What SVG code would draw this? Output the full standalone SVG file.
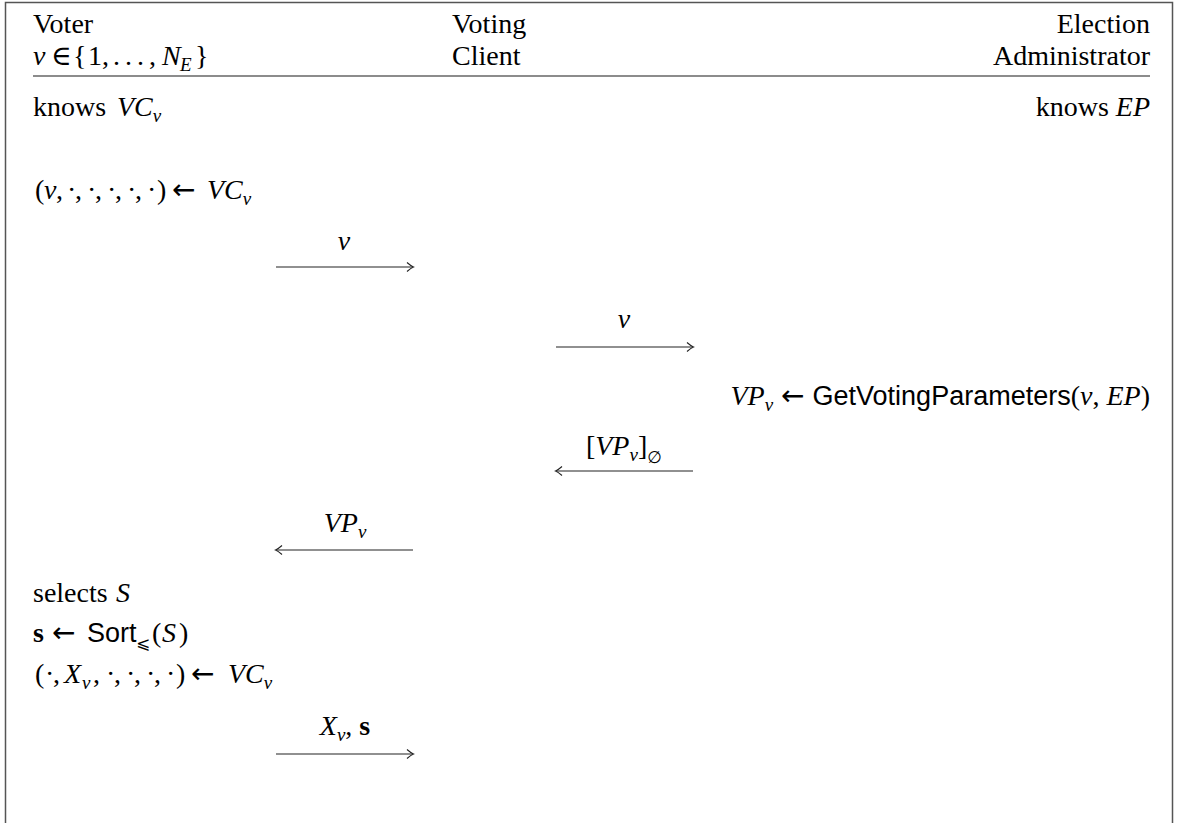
<svg xmlns="http://www.w3.org/2000/svg" width="1177" height="823" viewBox="0 0 1177 823">
<style>
  text { font-family: "Liberation Serif", "DejaVu Serif", serif; font-size: 28px; fill: #000; }
  .i { font-style: italic; }
  .sub { font-size: 19px; font-style: italic; }
  .sans { font-family: "Liberation Sans", "DejaVu Sans", sans-serif; font-size: 27px; }
  .b { font-weight: bold; }
  .arr { font-family: "DejaVu Sans", sans-serif; font-size: 28px; }
  .sym { font-family: "DejaVu Sans", sans-serif; font-size: 17px; }
  .frame { stroke: #555; stroke-width: 1.5; fill: none; }
  .rule { stroke: #666; stroke-width: 1.6; }
  .msg { stroke: #222; stroke-width: 1.2; fill: none; }
</style>
<defs>
  <marker id="head" markerUnits="userSpaceOnUse" markerWidth="12" markerHeight="12" refX="0" refY="0" viewBox="-8 -6 10 12" orient="auto" overflow="visible">
    <path d="M-6,-4.5 Q-2,-1 0.5,0 Q-2,1 -6,4.5" fill="none" stroke="#222" stroke-width="1.1"/>
  </marker>
</defs>
<rect width="1177" height="823" fill="#fff"/>
<path class="frame" d="M5.5,823 V2.5 H1172.5 V823"/>

<g id="header">
  <text x="33" y="33">Voter</text>
  <text y="65"><tspan class="i" x="33">v</tspan><tspan x="51">∈</tspan><tspan x="73">{</tspan><tspan x="88">1</tspan><tspan x="102">,</tspan><tspan x="113 125 137">...</tspan><tspan x="149">,</tspan><tspan class="i" x="162">N</tspan><tspan class="sub" x="180" dy="6">E</tspan><tspan x="195" dy="-6">}</tspan></text>
  <text x="452" y="33">Voting</text>
  <text x="452" y="65">Client</text>
  <text x="1150" y="33" text-anchor="end">Election</text>
  <text x="1150" y="65" text-anchor="end">Administrator</text>
  <line class="rule" x1="33" y1="76" x2="1150" y2="76"/>
</g>

<g id="voter-knows">
  <text y="116"><tspan x="33">knows</tspan><tspan class="i" x="117">VC</tspan><tspan class="sub" dy="6">v</tspan></text>
</g>
<g id="admin-knows">
  <text x="1150" y="116" text-anchor="end">knows <tspan class="i">EP</tspan></text>
</g>

<g id="voter-step1">
  <text y="199"><tspan x="35">(</tspan><tspan class="i" x="44">v</tspan><tspan x="56 67 75 87 95 107 115 127 135 147 157">,·,·,·,·,·)</tspan><tspan class="arr" x="172">←</tspan><tspan class="i" x="207">VC</tspan><tspan class="sub" dy="6">v</tspan></text>
</g>

<g id="admin-step">
  <text x="1150" y="405" text-anchor="end"><tspan class="i">VP</tspan><tspan class="sub" dy="6">v</tspan><tspan class="arr" dx="8" dy="-6">←</tspan><tspan class="sans" dx="8">GetVotingParameters</tspan>(<tspan class="i">v</tspan>, <tspan class="i">EP</tspan>)</text>
</g>

<g id="voter-step2">
  <text y="602"><tspan x="33">selects</tspan><tspan class="i" x="116">S</tspan></text>
  <text y="642"><tspan class="b" x="33">s</tspan><tspan class="arr" x="52">←</tspan><tspan class="sans" x="87">Sort</tspan><tspan class="sym" x="136" dy="7">⩽</tspan><tspan x="152" dy="-7">(</tspan><tspan class="i" x="162">S</tspan><tspan x="179">)</tspan></text>
  <text y="683"><tspan x="35 45 53">(·,</tspan><tspan class="i" x="64">X</tspan><tspan class="sub" x="82" dy="6">v</tspan><tspan x="93 106 114 126 134 146 154 166 176" dy="-6">,·,·,·,·)</tspan><tspan class="arr" x="191">←</tspan><tspan class="i" x="228">VC</tspan><tspan class="sub" dy="6">v</tspan></text>
</g>

<g id="connectors">
  <line class="msg" x1="276" y1="267" x2="413" y2="267" marker-end="url(#head)"/>
  <text x="344" y="250" text-anchor="middle" class="i">v</text>

  <line class="msg" x1="556" y1="347" x2="693" y2="347" marker-end="url(#head)"/>
  <text x="624" y="328" text-anchor="middle" class="i">v</text>

  <line class="msg" x1="693" y1="471" x2="556" y2="471" marker-end="url(#head)"/>
  <text x="624" y="455" text-anchor="middle">[<tspan class="i">VP</tspan><tspan class="sub" dy="6">v</tspan><tspan dy="-6">]</tspan><tspan class="sym" dy="8">∅</tspan></text>

  <line class="msg" x1="413" y1="550" x2="276" y2="550" marker-end="url(#head)"/>
  <text x="345" y="532" text-anchor="middle"><tspan class="i">VP</tspan><tspan class="sub" dy="6">v</tspan></text>

  <line class="msg" x1="276" y1="754" x2="413" y2="754" marker-end="url(#head)"/>
  <text x="345" y="735" text-anchor="middle"><tspan class="i">X</tspan><tspan class="sub" dy="6">v</tspan><tspan dy="-6">, </tspan><tspan class="b">s</tspan></text>
</g>
</svg>
